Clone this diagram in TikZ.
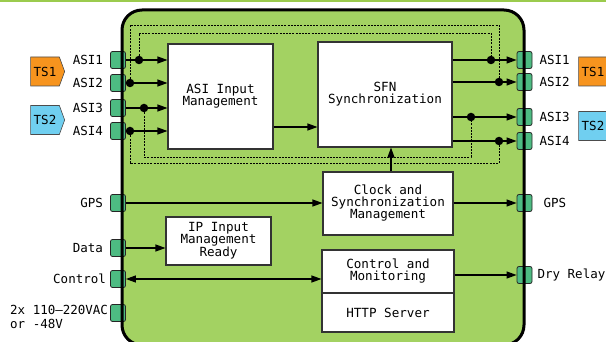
\documentclass[tikz,border=0pt]{standalone}
\usepackage{fontspec}
\setmonofont{DejaVu Sans Mono}
\usetikzlibrary{arrows.meta,positioning,shapes.symbols}
\definecolor{boardgreen}{RGB}{163,210,98}
\definecolor{bargreen}{RGB}{155,203,77}
\definecolor{portgreen}{RGB}{77,187,130}
\definecolor{tsorange}{RGB}{247,148,30}
\definecolor{tsblue}{RGB}{112,207,240}
\tikzset{
  box/.style={draw=black!80, line width=1.1pt, fill=white, align=center, inner sep=0pt,
    font=\ttfamily\fontsize{12.6}{12}\selectfont},
  port/.style={draw=black!85, line width=0.8pt, fill=portgreen, rounded corners=2pt,
    minimum width=15pt, minimum height=17pt, inner sep=0pt},
  lbl/.style={font=\ttfamily\fontsize{12.5}{14}\selectfont, inner sep=0pt},
  tag/.style={signal, signal to=east, signal pointer angle=140, draw=black!70, line width=0.6pt,
    minimum width=34pt, minimum height=29pt, inner sep=0pt, font=\ttfamily\fontsize{12.5}{13}\selectfont},
  dot/.style={circle, fill=black, inner sep=0pt, minimum size=8.5pt},
  link/.style={line width=1.1pt, -{Triangle[length=10pt,width=7pt]}},
  dlink/.style={line width=1.1pt, {Triangle[length=10pt,width=7pt]}-{Triangle[length=10pt,width=7pt]}},
  bypass/.style={line width=0.7pt, dash pattern=on 2pt off 1.2pt},
}
\begin{document}
\begin{tikzpicture}[x=1pt, y=-1pt]
\useasboundingbox (0,0) rectangle (606,342);
\fill[bargreen] (0,0) rectangle (606,2.5);
\fill[boardgreen, rounded corners=20pt] (122,10) rectangle (524,345);
% ports on the board edge
\node[port] (pL1) at (118,60) {};
\node[port] (pL2) at (118,83) {};
\node[port] (pL3) at (118,108) {};
\node[port] (pL4) at (118,131) {};
\node[port] (pLgps) at (118,203) {};
\node[port] (pLdata) at (118,248) {};
\node[port] (pLctrl) at (118,279) {};
\node[port] (pLpwr) at (118,313) {};
\node[port] (pR1) at (524.5,60) {};
\node[port] (pR2) at (524.5,82) {};
\node[port] (pR3) at (524.5,117) {};
\node[port] (pR4) at (524.5,141) {};
\node[port] (pRgps) at (524.5,203) {};
\node[port] (pRrelay) at (524.5,275) {};
\draw[line width=3pt, rounded corners=20pt] (122,10) rectangle (524,345);
% blocks
\node[box, minimum width=105pt, minimum height=105pt] (asi) at (220.5,96.5) {ASI Input\\Management};
\node[box, minimum width=134pt, minimum height=105pt] (sfn) at (385,94.5) {SFN\\Synchronization};
\node[box, minimum width=130pt, minimum height=63pt] (clock) at (388,203.5) {Clock and\\Synchronization\\Management};
\node[box, minimum width=105pt, minimum height=48pt] (ip) at (218.5,241) {IP Input\\Management\\Ready};
\node[box, minimum width=132pt, minimum height=43pt] (ctrl) at (388,271.5) {Control and\\Monitoring};
\node[box, minimum width=132pt, minimum height=39pt] (http) at (388,312.5) {HTTP Server};
% labels
\node[lbl, left=7pt of pL1] (tL1) {ASI1};
\node[lbl, left=7pt of pL2] (tL2) {ASI2};
\node[lbl, left=7pt of pL3] (tL3) {ASI3};
\node[lbl, left=7pt of pL4] (tL4) {ASI4};
\node[lbl, left=7pt of pLgps] (tLgps) {GPS};
\node[lbl, left=7pt of pLdata] (tLdata) {Data};
\node[lbl, left=4pt of pLctrl] (tLctrl) {Control};
\node[lbl, align=left, anchor=north west] (tLpwr) at (10,305) {2x 110–220VAC\\or -48V};
\node[lbl, right=7pt of pR1] (tR1) {ASI1};
\node[lbl, right=7pt of pR2] (tR2) {ASI2};
\node[lbl, right=7pt of pR3] (tR3) {ASI3};
\node[lbl, right=7pt of pR4] (tR4) {ASI4};
\node[lbl, right=11pt of pRgps] (tRgps) {GPS};
\node[lbl, right=5pt of pRrelay] (tRrelay) {Dry Relay};
\node[tag, fill=tsorange] (ts1L) at (45,71.5) {TS1};
\node[tag, fill=tsblue] (ts2L) at (45,120) {TS2};
\node[tag, fill=tsorange] (ts1R) at (593,71.5) {TS1};
\node[tag, fill=tsblue] (ts2R) at (593,126) {TS2};
% split points
\node[dot] (dL1) at (139,60) {};
\node[dot] (dL2) at (130,83) {};
\node[dot] (dL3) at (144,108) {};
\node[dot] (dL4) at (130,131) {};
\node[dot] (dR1) at (491,60) {};
\node[dot] (dR2) at (499,82) {};
\node[dot] (dR3) at (471,117) {};
\node[dot] (dR4) at (499,141) {};
\coordinate (busA) at (0,33);
\coordinate (busB) at (0,25);
\coordinate (busC) at (0,157);
\coordinate (busD) at (0,163);
\coordinate (tick) at (391,0);
% connections
\path[draw,link] (pL1) -- (asi.west |- pL1);
\path[draw,link] (pL2) -- (asi.west |- pL2);
\path[draw,link] (pL3) -- (asi.west |- pL3);
\path[draw,link] (pL4) -- (asi.west |- pL4);
\path[draw,link] (asi.east |- 0,127) -- (sfn.west |- 0,127);
\path[draw,link] (sfn.east |- pR1) -- (pR1);
\path[draw,link] (sfn.east |- pR2) -- (pR2);
\path[draw,link] (sfn.east |- pR3) -- (pR3);
\path[draw,link] (sfn.east |- pR4) -- (pR4);
\path[draw,bypass] (dL1) -- (dL1 |- busA) -| (dR1);
\path[draw,bypass] (dL2) -- (dL2 |- busB) -| (dR2);
\path[draw,bypass] (dL3) -- (dL3 |- busC) -| (dR3);
\path[draw,bypass] (dL4) -- (dL4 |- busD) -| (dR4);
\path[draw,link] (pLgps) -- (clock.west |- pLgps);
\path[draw,link] (clock.east |- pRgps) -- (pRgps);
\path[draw,link] (clock.north -| tick) -- (sfn.south -| tick);
\path[draw,link] (pLdata) -- (ip.west |- pLdata);
\path[draw,dlink] (pLctrl) -- (ctrl.west |- pLctrl);
\path[draw,link] (ctrl.east |- pRrelay) -- (pRrelay);
\end{tikzpicture}
\end{document}
